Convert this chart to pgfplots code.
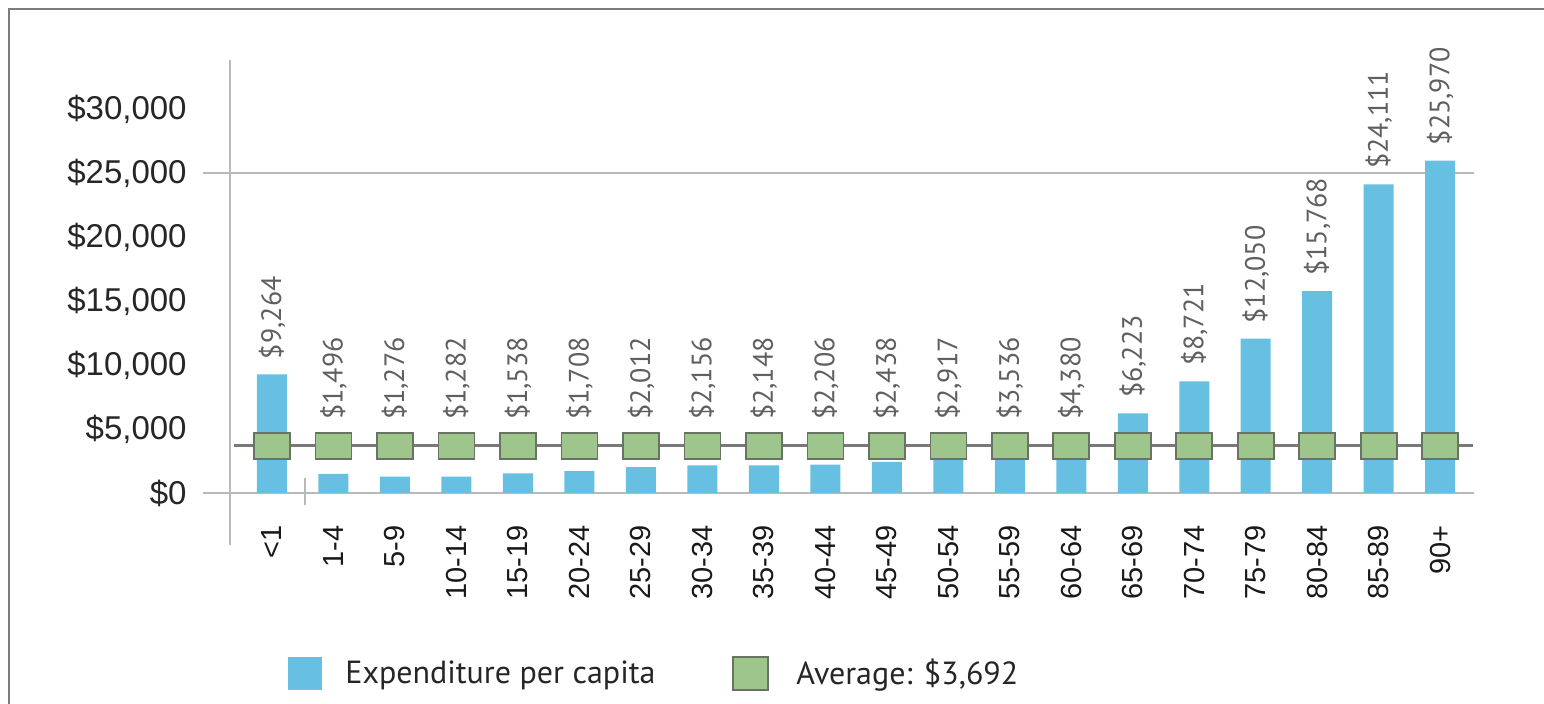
\documentclass[border=0pt]{standalone}
\usepackage{pgfplots}
\usepackage{pgfplotstable}
\pgfplotsset{compat=1.18}
\usepackage{fontspec}
\setmainfont{Liberation Sans}
\newfontfamily\lfont{PT Sans}
\definecolor{barblue}{RGB}{103,192,225}
\definecolor{avggreen}{RGB}{158,197,139}
\definecolor{avgedge}{RGB}{105,115,100}
\definecolor{avgline}{RGB}{120,120,120}
\definecolor{gridc}{RGB}{185,185,185}
\definecolor{framec}{RGB}{125,125,125}
\definecolor{labc}{RGB}{95,95,95}
\pgfplotstableread{
x v ly avg
0 9264 9264 3692
1 1496 4500 3692
2 1276 4500 3692
3 1282 4500 3692
4 1538 4500 3692
5 1708 4500 3692
6 2012 4500 3692
7 2156 4500 3692
8 2148 4500 3692
9 2206 4500 3692
10 2438 4500 3692
11 2917 4500 3692
12 3536 4500 3692
13 4380 4500 3692
14 6223 6223 3692
15 8721 8721 3692
16 12050 12050 3692
17 15768 15768 3692
18 24111 24111 3692
19 25970 25970 3692
}\data
\begin{document}
\begin{tikzpicture}[x=1pt,y=1pt]
\useasboundingbox (0,0) rectangle (772,352);
\draw[framec, line width=1pt] (4.5,-2) -- (4.5,347.5) -- (775,347.5);
\begin{axis}[
  at={(101.5pt,89.5pt)}, anchor=south west,
  scale only axis, width=635.5pt, height=232.5pt,
  xmin=-1.122, xmax=19.55, ymin=-2500, ymax=33828,
  clip=false,
  axis line style={draw=none},
  major tick length=0pt,
  scaled y ticks=false,
  ytick={0,5000,10000,15000,20000,25000,30000},
  yticklabels={\$0,{\$5,000},{\$10,000},{\$15,000},{\$20,000},{\$25,000},{\$30,000}},
  yticklabel style={font=\fontsize{16.5}{18}\selectfont, text=black!85, anchor=east, inner sep=0pt, xshift=-8pt},
  xtick={0,...,19},
  xticklabels={<1,1-4,5-9,10-14,15-19,20-24,25-29,30-34,35-39,40-44,45-49,50-54,55-59,60-64,65-69,70-74,75-79,80-84,85-89,90+},
  xticklabel style={rotate=90, anchor=east, inner sep=0pt, font=\fontsize{14.5}{16}\selectfont, text=black!90},
]
\draw[gridc, line width=0.9pt] (axis cs:-1.122,0) -- (axis cs:19.55,0);
\draw[gridc, line width=0.9pt] (axis cs:-1.122,25000) -- (axis cs:19.55,25000);
\draw[gridc, line width=0.9pt] (axis cs:-0.683,-4062) -- (axis cs:-0.683,33828);
\draw[gridc, line width=0.9pt] (axis cs:0.537,1172) -- (axis cs:0.537,-940);
\addplot[ybar, bar width=15pt, bar shift=0pt, fill=barblue, draw=none] table[x=x,y=v]{\data};
\addplot[avgline, line width=1.5pt, mark=none] coordinates {(-0.618,3692) (19.54,3692)};
\addplot[only marks, mark=square*, mark size=6.5pt, mark options={xscale=1.385, fill=avggreen, draw=avgedge, line width=0.8pt}] table[x=x,y=avg]{\data};
\addplot[draw=none, mark=none, point meta=explicit,
  nodes near coords={\$\pgfmathprintnumber[assume math mode=true, 1000 sep={,}, fixed, precision=0]{\pgfplotspointmeta}},
  every node near coord/.append style={rotate=90, anchor=west, inner xsep=7.5pt, inner ysep=0pt, font=\lfont\fontsize{14}{16}\selectfont, text=labc}]
  table[x=x,y=ly,meta=v]{\data};
\end{axis}
\fill[barblue] (144,7) rectangle (161,23.5);
\node[anchor=west, inner sep=0pt, font=\lfont\fontsize{16}{18}\selectfont, text=black!85] at (172.5,14.5) {Expenditure per capita};
\filldraw[fill=avggreen, draw=avgedge, line width=0.8pt] (366.5,7) rectangle (384,23.5);
\node[anchor=west, inner sep=0pt, font=\lfont\fontsize{16}{18}\selectfont, text=black!85] at (398,14.5) {Average: \$3,692};
\end{tikzpicture}
\end{document}
